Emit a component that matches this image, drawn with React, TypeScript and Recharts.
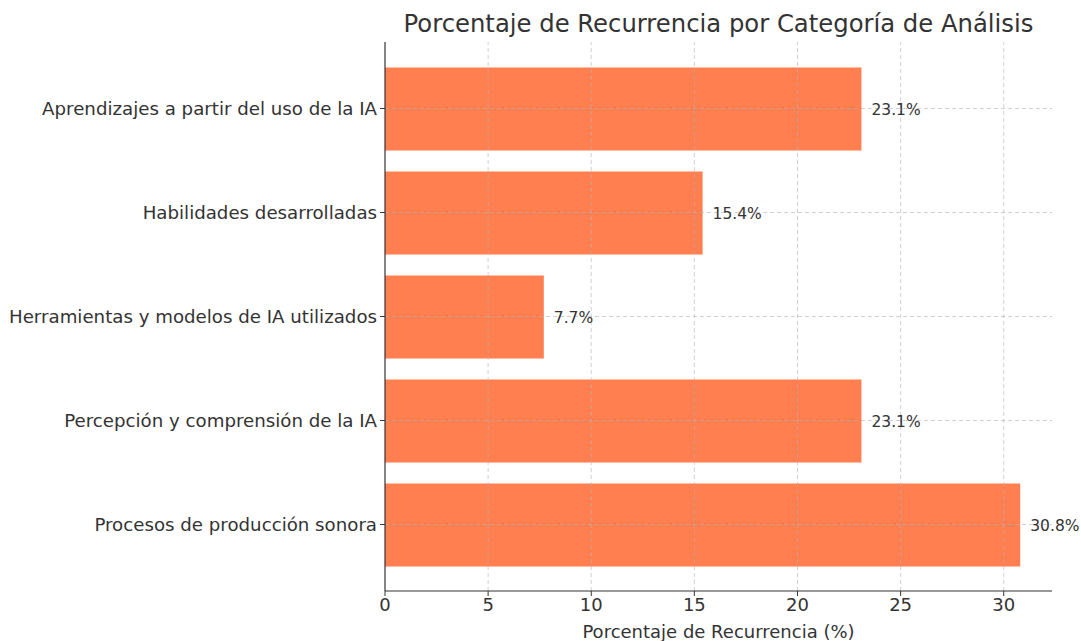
import React from "react"
import { BarChart, Bar, XAxis, YAxis, ReferenceLine, LabelList } from "recharts"

const categories = [
  "Aprendizajes a partir del uso de la IA",
  "Habilidades desarrolladas",
  "Herramientas y modelos de IA utilizados",
  "Percepción y comprensión de la IA",
  "Procesos de producción sonora",
]
const percentages = [23.1, 15.4, 7.7, 23.1, 30.8]
const xTicks = [0, 5, 10, 15, 20, 25, 30]

const chartData = categories.map((name, i) => ({ name, value: percentages[i] }))

const font = "'DejaVu Sans', sans-serif"
const gridStyle = { stroke: "#b0b0b0", strokeOpacity: 0.6, strokeDasharray: "4 3" }

export default function App() {
  return (
    <div style={{ position: "fixed", left: 0, top: 0, width: 1081, height: 641, background: "#fff", fontFamily: font }}>
      <div
        style={{
          position: "absolute",
          left: 385,
          width: 667,
          top: 9,
          textAlign: "center",
          fontSize: 24.3,
          color: "#333",
          whiteSpace: "nowrap",
        }}
      >
        Porcentaje de Recurrencia por Categoría de Análisis
      </div>
      <BarChart
        width={1081}
        height={641}
        layout="vertical"
        data={chartData}
        margin={{ top: 42, right: 29, left: 0, bottom: 0 }}
      >
        <XAxis
          type="number"
          domain={[0, 32.34]}
          ticks={xTicks}
          allowDataOverflow
          height={50}
          tickSize={5}
          tickMargin={2}
          axisLine={{ stroke: "#333", strokeWidth: 1.2 }}
          tickLine={{ stroke: "#333" }}
          tick={{ fontSize: 18, fill: "#333", fontFamily: font }}
          label={{
            value: "Porcentaje de Recurrencia (%)",
            position: "insideBottom",
            offset: 3,
            style: { fontSize: 18, fill: "#333", fontFamily: font },
          }}
        />
        <YAxis
          type="category"
          dataKey="name"
          width={385}
          padding={{ top: 14.5, bottom: 14.5 }}
          tickSize={5}
          tickMargin={3}
          axisLine={{ stroke: "#333", strokeWidth: 1.2 }}
          tickLine={{ stroke: "#333" }}
          tick={{ fontSize: 18.2, fill: "#333", fontFamily: font }}
          interval={0}
        />
        <Bar dataKey="value" fill="#ff7f50" barSize={83} isAnimationActive={false}>
          <LabelList
            dataKey="value"
            position="right"
            offset={10}
            formatter={(v: any) => `${Number(v).toFixed(1)}%`}
            style={{ fontSize: 15.5, fill: "#333", fontFamily: font }}
          />
        </Bar>
        {xTicks.slice(1).map((t) => (
          <ReferenceLine key={`vx-${t}`} x={t} {...gridStyle} />
        ))}
        {categories.map((c) => (
          <ReferenceLine key={`hy-${c}`} y={c} {...gridStyle} />
        ))}
      </BarChart>
    </div>
  )
}
